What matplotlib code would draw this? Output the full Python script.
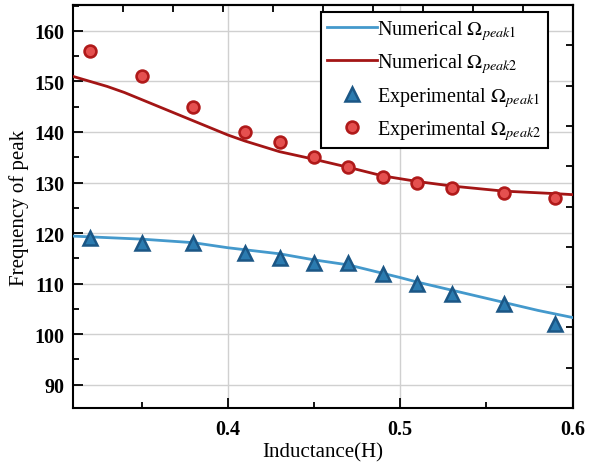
import numpy as np
import matplotlib
matplotlib.use("Agg")
import matplotlib.pyplot as plt
from matplotlib.ticker import MultipleLocator, NullFormatter

plt.rcParams['font.family'] = ['Liberation Serif', 'DejaVu Serif']
plt.rcParams['mathtext.fontset'] = 'stix'

# Experimental data
exp_x = [0.32, 0.35, 0.38, 0.41, 0.43, 0.45, 0.47, 0.49, 0.51, 0.53, 0.56, 0.59]
exp_peak1 = [119, 118, 118, 116, 115, 114, 114, 112, 110, 108, 106, 102]
exp_peak2 = [156, 151, 145, 140, 138, 135, 133, 131, 130, 129, 128, 127]

# Numerical curves
num1_x = [0.31, 0.35, 0.38, 0.40, 0.43, 0.45, 0.47, 0.50, 0.51, 0.53, 0.55, 0.58, 0.60]
num1_y = [119.4, 118.8, 118.1, 117.1, 115.9, 114.7, 113.7, 111.2, 110.3, 108.7, 107.1, 104.7, 103.3]
num2_x = [0.31, 0.33, 0.34, 0.35, 0.38, 0.40, 0.41, 0.43, 0.45, 0.47, 0.49, 0.51, 0.53, 0.56, 0.59, 0.60]
num2_y = [151.0, 149.0, 147.8, 146.4, 142.2, 139.4, 138.2, 136.1, 134.6, 133.0, 131.3, 130.2, 129.3, 128.3, 127.8, 127.6]

fig = plt.figure(figsize=(5.98, 4.64), dpi=100)
ax = fig.add_axes([0.1216, 0.1185, 0.9574 - 0.1216, 0.987 - 0.1185])

ax.plot(num1_x, num1_y, color='#4499cc', lw=2, label=r'Numerical $\Omega_{peak1}$', zorder=3)
ax.plot(num2_x, num2_y, color='#a31515', lw=2, label=r'Numerical $\Omega_{peak2}$', zorder=3)
ax.plot(exp_x, exp_peak1, ls='none', marker='^', ms=10, mfc='#2b7bb0', mec='#1b5685', mew=1.8,
        label=r'Experimental $\Omega_{peak1}$', zorder=4)
ax.plot(exp_x, exp_peak2, ls='none', marker='o', ms=8.5, mfc='#e5504f', mec='#b01a1a', mew=1.9,
        label=r'Experimental $\Omega_{peak2}$', zorder=4)

ax.set_xlim(0.31, 0.6)
ax.set_ylim(85.4, 165.1)

ax.xaxis.set_major_locator(MultipleLocator(0.1))
ax.xaxis.set_minor_locator(MultipleLocator(0.05))
ax.yaxis.set_major_locator(MultipleLocator(10))
ax.yaxis.set_minor_locator(MultipleLocator(5))

ax.grid(True, which='major', color='#d0d0d0', lw=1, zorder=0)
ax.set_axisbelow(True)

ax.tick_params(which='major', direction='in', length=7, width=1.3, labelsize=14.5)
ax.tick_params(which='minor', direction='in', length=4, width=1.3)
ax.tick_params(axis='x', which='major', pad=8)
ax.tick_params(axis='y', which='major', pad=6)
for lab in ax.get_xticklabels() + ax.get_yticklabels():
    lab.set_fontweight('bold')

for s in ax.spines.values():
    s.set_linewidth(1.5)

# Opposite axes with 10 equal divisions
xl = ax.get_xlim()
yl = ax.get_ylim()
secx = ax.secondary_xaxis('top')
secx.set_xticks(np.linspace(xl[0], xl[1], 11))
secx.xaxis.set_major_formatter(NullFormatter())
secx.tick_params(direction='in', length=5, width=1.3)
secx.spines['top'].set_linewidth(1.5)
secy = ax.secondary_yaxis('right')
secy.set_yticks(np.linspace(yl[0], yl[1], 11))
secy.yaxis.set_major_formatter(NullFormatter())
secy.tick_params(direction='in', length=5, width=1.3)
secy.spines['right'].set_linewidth(1.5)

ax.set_xlabel('Inductance(H)', fontsize=15, labelpad=2)
ax.set_ylabel('Frequency of peak', fontsize=15, labelpad=4)

leg = ax.legend(loc='upper right', bbox_to_anchor=(0.95, 0.983), fontsize=14.5,
                frameon=True, fancybox=False, edgecolor='black', framealpha=1,
                handlelength=2.5, handletextpad=0.0, borderpad=0.3, labelspacing=0.47,
                borderaxespad=0)
leg.get_frame().set_linewidth(1.5)

fig.savefig('out.png', dpi=100)
